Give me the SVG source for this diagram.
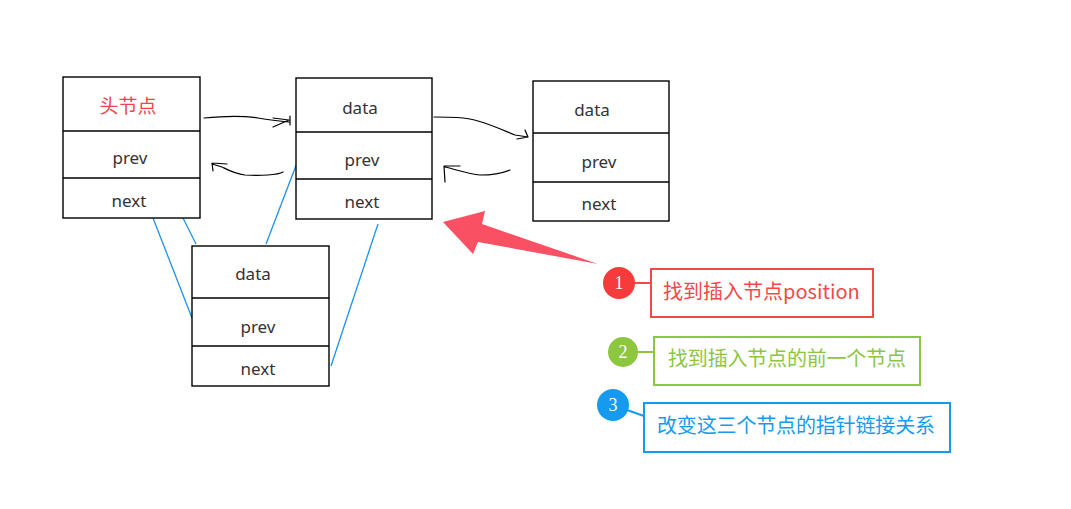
<svg xmlns="http://www.w3.org/2000/svg" width="1071" height="509" viewBox="0 0 1071 509">
<style>
.box{fill:#fff;stroke:#000;stroke-width:1.4}
.div{stroke:#000;stroke-width:1.4}
.t{font-family:"Noto Sans","Noto Sans CJK SC",sans-serif;font-size:17px;fill:#333;text-anchor:middle}
.hand{fill:none;stroke:#000;stroke-width:1.2;stroke-linecap:round;stroke-linejoin:round}
.blue{stroke:#1e90f0;stroke-width:1.3;fill:none}
.ct{font-family:"Noto Sans CJK SC","Noto Sans",sans-serif;font-size:20px}
.num{font-family:"Liberation Serif",serif;font-size:18px;fill:#fff;text-anchor:middle}
</style>
<rect width="1071" height="509" fill="#fff"/>
<g id="connectors">
<line class="blue" x1="153" y1="218" x2="192" y2="318"/>
<line class="blue" x1="183" y1="218" x2="196" y2="244"/>
<line class="blue" x1="297" y1="163" x2="266" y2="244"/>
<line class="blue" x1="378" y1="224" x2="331" y2="366"/>
<path class="hand" d="M204,118 C225,116 245,116 258,118 C268,120 278,121 289,122 M273,118 L289,120 L273,127 M290,116 L290,125"/>
<path class="hand" d="M283,172 C278,175 260,176 245,175 C235,174 228,170 222,167 L212,164 M212,163 L227,164 M212,163 L213,171"/>
<path class="hand" d="M434,117 C450,117 465,117 478,121 C492,125 505,131 515,135 L528,137 M525,130 L528,137 L517,139"/>
<path class="hand" d="M510,170 C505,172 495,175 480,175 C468,174 458,170 445,167 M444,166 L460,166 M444,166 L445,182"/>
<polygon points="443,222 485,211 482,224 598,264 478,242 473,254" fill="#fa5064"/>
<line x1="634" y1="283" x2="651" y2="283" stroke="#f54848" stroke-width="2"/>
<line x1="637" y1="352" x2="654" y2="352" stroke="#8dc63f" stroke-width="2"/>
<line x1="627" y1="410" x2="644" y2="416" stroke="#149bf0" stroke-width="2"/>
</g>
<g id="node-head">
<rect class="box" x="63" y="77" width="137" height="141"/>
<line class="div" x1="63" y1="131" x2="200" y2="131"/>
<line class="div" x1="63" y1="178" x2="200" y2="178"/>
<text class="t" x="128" y="113" style="fill:#f5424b;font-family:'Noto Sans CJK SC',sans-serif;font-size:19px">头节点</text>
<text class="t" x="130" y="164">prev</text>
<text class="t" x="129" y="207">next</text>
</g>
<g id="node-2">
<rect class="box" x="296" y="78" width="136" height="141"/>
<line class="div" x1="296" y1="132" x2="432" y2="132"/>
<line class="div" x1="296" y1="179" x2="432" y2="179"/>
<text class="t" x="360" y="114">data</text>
<text class="t" x="362" y="166">prev</text>
<text class="t" x="362" y="208">next</text>
</g>
<g id="node-3">
<rect class="box" x="533" y="81" width="136" height="140"/>
<line class="div" x1="533" y1="133" x2="669" y2="133"/>
<line class="div" x1="533" y1="182" x2="669" y2="182"/>
<text class="t" x="592" y="116">data</text>
<text class="t" x="599" y="168">prev</text>
<text class="t" x="599" y="210">next</text>
</g>
<g id="node-new">
<rect class="box" x="192" y="246" width="137" height="140"/>
<line class="div" x1="192" y1="298" x2="329" y2="298"/>
<line class="div" x1="192" y1="346" x2="329" y2="346"/>
<text class="t" x="253" y="280">data</text>
<text class="t" x="258" y="333">prev</text>
<text class="t" x="258" y="375">next</text>
</g>
<g id="step-1">
<circle cx="619" cy="283" r="16" fill="#f53b3b"/>
<text class="num" x="619" y="289">1</text>
<rect x="651" y="269" width="222" height="48" fill="#fff" stroke="#f54848" stroke-width="2"/>
<text class="ct" x="663" y="299" fill="#f54848">找到插入节点position</text>
</g>
<g id="step-2">
<circle cx="623" cy="352" r="15" fill="#8dc63f"/>
<text class="num" x="623" y="358">2</text>
<rect x="654" y="337" width="266" height="48" fill="#fff" stroke="#8dc63f" stroke-width="2"/>
<text class="ct" x="668" y="366" fill="#8dc63f" textLength="238">找到插入节点的前一个节点</text>
</g>
<g id="step-3">
<circle cx="613" cy="405" r="16" fill="#149bf0"/>
<text class="num" x="613" y="411">3</text>
<rect x="644" y="403" width="306" height="49" fill="#fff" stroke="#149bf0" stroke-width="2"/>
<text class="ct" x="657" y="433" fill="#149bf0" textLength="278">改变这三个节点的指针链接关系</text>
</g>
</svg>
